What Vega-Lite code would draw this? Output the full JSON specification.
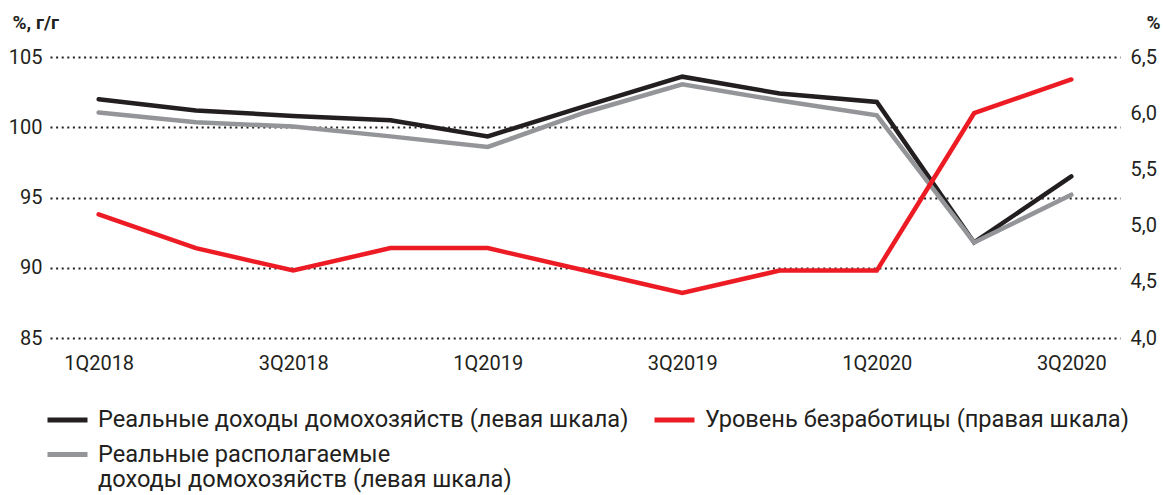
{
  "$schema": "https://vega.github.io/schema/vega-lite/v6.json",
  "width": 1070,
  "height": 281,
  "autosize": {"type": "none"},
  "padding": {"left": 50, "top": 57, "right": 43, "bottom": 157},
  "background": "white",
  "config": {
    "font": "Roboto",
    "view": {"stroke": null},
    "axis": {"labelFont": "Roboto", "labelFontSize": 20, "labelColor": "#231f20", "titleFont": "Roboto"}
  },
  "data": {
    "values": [
      {"q": "1Q2018", "s": "Реальные  доходы домохозяйств (левая шкала)", "v": 102.0},
      {"q": "2Q2018", "s": "Реальные  доходы домохозяйств (левая шкала)", "v": 101.2},
      {"q": "3Q2018", "s": "Реальные  доходы домохозяйств (левая шкала)", "v": 100.8},
      {"q": "4Q2018", "s": "Реальные  доходы домохозяйств (левая шкала)", "v": 100.5},
      {"q": "1Q2019", "s": "Реальные  доходы домохозяйств (левая шкала)", "v": 99.35},
      {"q": "2Q2019", "s": "Реальные  доходы домохозяйств (левая шкала)", "v": 101.5},
      {"q": "3Q2019", "s": "Реальные  доходы домохозяйств (левая шкала)", "v": 103.6},
      {"q": "4Q2019", "s": "Реальные  доходы домохозяйств (левая шкала)", "v": 102.4},
      {"q": "1Q2020", "s": "Реальные  доходы домохозяйств (левая шкала)", "v": 101.8},
      {"q": "2Q2020", "s": "Реальные  доходы домохозяйств (левая шкала)", "v": 91.8},
      {"q": "3Q2020", "s": "Реальные  доходы домохозяйств (левая шкала)", "v": 96.5},
      {"q": "1Q2018", "s": "Реальные располагаемые доходы домохозяйств (левая шкала)", "v": 101.05},
      {"q": "2Q2018", "s": "Реальные располагаемые доходы домохозяйств (левая шкала)", "v": 100.35},
      {"q": "3Q2018", "s": "Реальные располагаемые доходы домохозяйств (левая шкала)", "v": 100.05},
      {"q": "4Q2018", "s": "Реальные располагаемые доходы домохозяйств (левая шкала)", "v": 99.35},
      {"q": "1Q2019", "s": "Реальные располагаемые доходы домохозяйств (левая шкала)", "v": 98.6},
      {"q": "2Q2019", "s": "Реальные располагаемые доходы домохозяйств (левая шкала)", "v": 101.05},
      {"q": "3Q2019", "s": "Реальные располагаемые доходы домохозяйств (левая шкала)", "v": 103.05},
      {"q": "4Q2019", "s": "Реальные располагаемые доходы домохозяйств (левая шкала)", "v": 101.9},
      {"q": "1Q2020", "s": "Реальные располагаемые доходы домохозяйств (левая шкала)", "v": 100.85},
      {"q": "2Q2020", "s": "Реальные располагаемые доходы домохозяйств (левая шкала)", "v": 91.8},
      {"q": "3Q2020", "s": "Реальные располагаемые доходы домохозяйств (левая шкала)", "v": 95.2},
      {"q": "1Q2018", "s": "Уровень безработицы (правая шкала)", "u": 5.1},
      {"q": "2Q2018", "s": "Уровень безработицы (правая шкала)", "u": 4.8},
      {"q": "3Q2018", "s": "Уровень безработицы (правая шкала)", "u": 4.6},
      {"q": "4Q2018", "s": "Уровень безработицы (правая шкала)", "u": 4.8},
      {"q": "1Q2019", "s": "Уровень безработицы (правая шкала)", "u": 4.8},
      {"q": "2Q2019", "s": "Уровень безработицы (правая шкала)", "u": 4.6},
      {"q": "3Q2019", "s": "Уровень безработицы (правая шкала)", "u": 4.4},
      {"q": "4Q2019", "s": "Уровень безработицы (правая шкала)", "u": 4.6},
      {"q": "1Q2020", "s": "Уровень безработицы (правая шкала)", "u": 4.6},
      {"q": "2Q2020", "s": "Уровень безработицы (правая шкала)", "u": 6.0},
      {"q": "3Q2020", "s": "Уровень безработицы (правая шкала)", "u": 6.3}
    ]
  },
  "encoding": {
    "x": {
      "field": "q", "type": "ordinal", "sort": null,
      "scale": {"type": "point", "padding": 0.5},
      "axis": {"title": null, "values": ["1Q2018", "3Q2018", "1Q2019", "3Q2019", "1Q2020", "3Q2020"], "labelAngle": 0, "domain": false, "ticks": false, "labelPadding": 15, "grid": false}
    },
    "color": {
      "field": "s", "type": "nominal",
      "scale": {
        "domain": ["Реальные  доходы домохозяйств (левая шкала)", "Уровень безработицы (правая шкала)", "Реальные располагаемые доходы домохозяйств (левая шкала)"],
        "range": ["#231f20", "#ed1c24", "#939598"]
      },
      "legend": {
        "title": null,
        "orient": "none",
        "legendX": -5,
        "legendY": 340,
        "direction": "horizontal",
        "columns": 2,
        "columnPadding": 9,
        "rowPadding": 0,
        "symbolType": "stroke",
        "symbolSize": 1600,
        "symbolStrokeWidth": 5,
        "labelFont": "Roboto",
        "labelFontSize": 23.6,
        "labelColor": "#231f20",
        "labelLimit": 800,
        "labelOffset": 8,
        "labelExpr": "datum.label == 'Реальные располагаемые доходы домохозяйств (левая шкала)' ? ['Реальные располагаемые', 'доходы домохозяйств (левая шкала)'] : datum.label"
      }
    }
  },
  "layer": [
    {
      "transform": [{"filter": "isValid(datum.v)"}],
      "mark": {"type": "line", "strokeWidth": 4.5, "strokeCap": "round", "strokeJoin": "miter"},
      "encoding": {
        "y": {
          "field": "v", "type": "quantitative",
          "scale": {"domain": [85, 105], "nice": false, "zero": false},
          "axis": {
            "title": "%, г/г", "titleAngle": 0, "titleAlign": "left", "titleBaseline": "alphabetic",
            "titleX": -38, "titleY": -29, "titleFontSize": 19, "titleFontWeight": "bold", "titleColor": "#231f20",
            "values": [85, 90, 95, 100, 105],
            "domain": false, "ticks": false, "labelPadding": 8,
            "grid": true, "gridColor": "#231f20", "gridWidth": 2, "gridDash": [2, 3.6]
          }
        },
        "detail": {"field": "s"}
      }
    },
    {
      "transform": [{"filter": "isValid(datum.u)"}],
      "mark": {"type": "line", "strokeWidth": 4.5, "strokeCap": "round", "strokeJoin": "miter"},
      "encoding": {
        "y": {
          "field": "u", "type": "quantitative",
          "scale": {"domain": [4.0, 6.5], "nice": false, "zero": false},
          "axis": {
            "orient": "right",
            "title": "%", "titleAngle": 0, "titleAlign": "right", "titleBaseline": "alphabetic",
            "titleX": 40, "titleY": -29, "titleFontSize": 19, "titleFontWeight": "bold", "titleColor": "#231f20",
            "values": [4.0, 4.5, 5.0, 5.5, 6.0, 6.5],
            "labelExpr": "replace(format(datum.value, '.1f'), '.', ',')",
            "domain": false, "ticks": false, "labelPadding": 10, "grid": false
          }
        }
      }
    }
  ],
  "resolve": {"scale": {"y": "independent"}}
}
